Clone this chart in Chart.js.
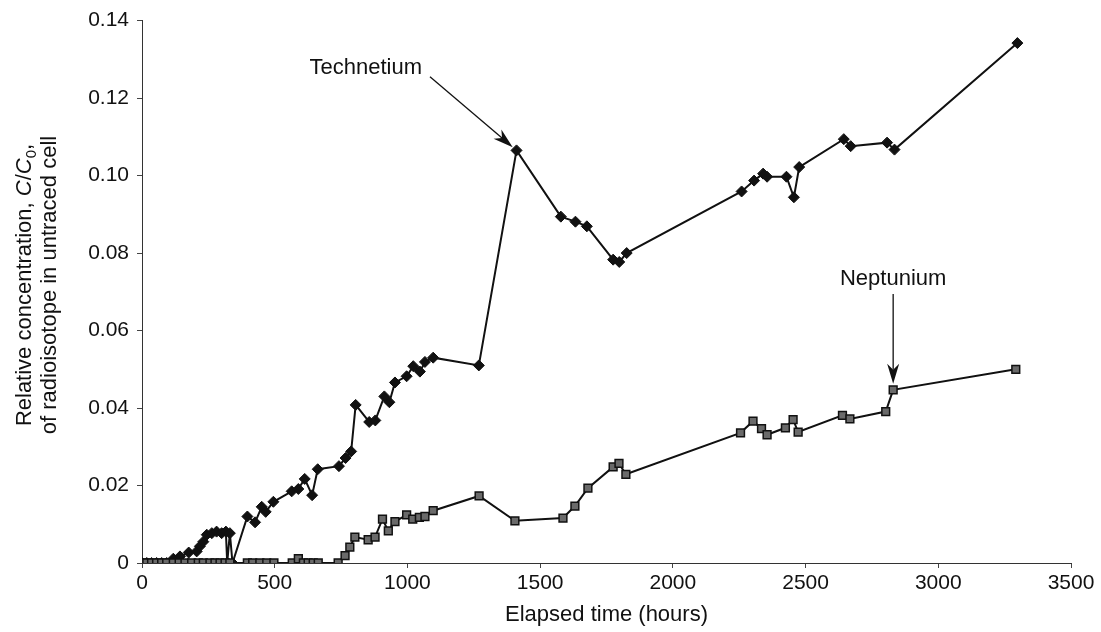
<!DOCTYPE html>
<html><head><meta charset="utf-8">
<script src="https://cdn.jsdelivr.net/npm/chart.js@4.4.1/dist/chart.umd.min.js"></script>
<style>html,body{margin:0;padding:0;background:#fff;}#wrap{width:1101px;height:632px;position:relative;}</style>
</head><body><div id="wrap"><canvas id="c" width="1101" height="632"></canvas></div>
<script>
// ---- data ----
const xTickValues = [0, 500, 1000, 1500, 2000, 2500, 3000, 3500];
const yTickValues = [0, 0.02, 0.04, 0.06, 0.08, 0.10, 0.12, 0.14];

const technetiumHours = [0,18,36,55,74,93,118,143,176,206,218,231,244,263,281,300,316,321,331,341,397,426,451,466,495,564,589,613,641,662,742,767,788,805,856,879,913,932,953,997,1022,1047,1066,1097,1269,1411,1578,1633,1676,1775,1798,1826,2259,2306,2340,2355,2428,2456,2476,2644,2670,2807,2835,3298];
const technetiumValues = [0,0,0,0,0,0,0.0011,0.0017,0.0027,0.003,0.0043,0.0055,0.0073,0.0077,0.0081,0.0077,0.0081,0,0.0077,0,0.012,0.0105,0.0145,0.0132,0.0158,0.0185,0.0191,0.0217,0.0175,0.0242,0.025,0.0271,0.0288,0.0408,0.0364,0.0368,0.043,0.0415,0.0466,0.0482,0.0508,0.0494,0.0519,0.053,0.051,0.1065,0.0894,0.0881,0.0869,0.0783,0.0777,0.08,0.0959,0.0987,0.1005,0.0997,0.0997,0.0944,0.1022,0.1094,0.1076,0.1085,0.1067,0.1342];

const neptuniumHours = [0,18,36,55,74,93,118,140,162,187,212,231,256,275,294,313,331,397,417,444,470,497,566,589,608,626,645,664,739,765,783,802,852,878,906,928,953,997,1020,1045,1066,1097,1270,1405,1586,1631,1680,1775,1797,1823,2255,2302,2334,2355,2424,2453,2472,2639,2667,2802,2830,3292];
const neptuniumValues = [0,0,0,0,0,0,0,0,0,0,0,0,0,0,0,0,0,0,0,0,0,0,0,0.0011,0,0,0,0,0,0.0019,0.0041,0.0067,0.006,0.0067,0.0113,0.0083,0.0107,0.0124,0.0113,0.0118,0.012,0.0135,0.0173,0.0109,0.0116,0.0147,0.0193,0.0248,0.0257,0.0229,0.0336,0.0366,0.0347,0.0331,0.0349,0.037,0.0338,0.0381,0.0372,0.0391,0.0447,0.05];

const seriesNames = ['Technetium', 'Neptunium'];
const xTitle = 'Elapsed time (hours)';
const yTitleLine2 = 'of radioisotope in untraced cell';

// annotation anchors (data units)
const tcLabelAt = {x: 1055, y: 0.1262};
const tcArrowFrom = {x: 1085, y: 0.1255};
const tcArrowTo = {x: 1411, y: 0.1065};
const npLabelAt = {x: 2830, y: 0.0718};
const npArrowFrom = {x: 2830, y: 0.0694};
const npArrowTo = {x: 2830, y: 0.0447};

const FONT = '"Liberation Sans", Arial, Helvetica, sans-serif';

function toXY(xs, ys){ return xs.map((x,i)=>({x:x, y:ys[i]})); }

function drawArrow(ctx, x1, y1, x2, y2, gap){
  const ang = Math.atan2(y2-y1, x2-x1);
  const tx = x2 - Math.cos(ang)*gap, ty = y2 - Math.sin(ang)*gap;
  const L = 20, W = 6, notch = 14;
  ctx.save();
  ctx.strokeStyle = '#111'; ctx.fillStyle = '#111'; ctx.lineWidth = 1.3;
  ctx.beginPath(); ctx.moveTo(x1,y1);
  ctx.lineTo(tx - Math.cos(ang)*notch, ty - Math.sin(ang)*notch); ctx.stroke();
  const bx = tx - Math.cos(ang)*L, by = ty - Math.sin(ang)*L;
  const nx = -Math.sin(ang), ny = Math.cos(ang);
  ctx.beginPath();
  ctx.moveTo(tx, ty);
  ctx.lineTo(bx + nx*W, by + ny*W);
  ctx.lineTo(tx - Math.cos(ang)*notch, ty - Math.sin(ang)*notch);
  ctx.lineTo(bx - nx*W, by - ny*W);
  ctx.closePath(); ctx.fill();
  ctx.restore();
}

const overlay = {
  id: 'overlay',
  afterDraw(chart){
    const ctx = chart.ctx, xs = chart.scales.x, ys = chart.scales.y;
    ctx.save();
    ctx.fillStyle = '#111';
    const cy = 285;
    const segs = [
      {t:'Relative concentration, ', f:'22px '+FONT, dy:0},
      {t:'C', f:'italic 22px '+FONT, dy:0},
      {t:'/', f:'22px '+FONT, dy:0},
      {t:'C', f:'italic 22px '+FONT, dy:0},
      {t:'0', f:'15px '+FONT, dy:5},
      {t:',', f:'22px '+FONT, dy:0}
    ];
    let total = 0;
    segs.forEach(s=>{ ctx.font = s.f; s.w = ctx.measureText(s.t).width; total += s.w; });
    ctx.save();
    ctx.translate(31, cy);
    ctx.rotate(-Math.PI/2);
    ctx.textBaseline = 'alphabetic'; ctx.textAlign = 'left';
    let px = -total/2;
    segs.forEach(s=>{ ctx.font = s.f; ctx.fillText(s.t, px, s.dy); px += s.w; });
    ctx.restore();
    ctx.save();
    ctx.translate(56, cy);
    ctx.rotate(-Math.PI/2);
    ctx.font = '22px '+FONT; ctx.textAlign = 'center'; ctx.textBaseline = 'alphabetic';
    ctx.fillText(yTitleLine2, 0, 0);
    ctx.restore();

    // annotations
    ctx.font = '22px '+FONT; ctx.fillStyle = '#111';
    ctx.textAlign = 'right'; ctx.textBaseline = 'alphabetic';
    ctx.fillText(seriesNames[0], xs.getPixelForValue(tcLabelAt.x), ys.getPixelForValue(tcLabelAt.y));
    drawArrow(ctx, xs.getPixelForValue(tcArrowFrom.x), ys.getPixelForValue(tcArrowFrom.y),
      xs.getPixelForValue(tcArrowTo.x), ys.getPixelForValue(tcArrowTo.y), 5);
    ctx.textAlign = 'center';
    ctx.fillText(seriesNames[1], xs.getPixelForValue(npLabelAt.x), ys.getPixelForValue(npLabelAt.y));
    drawArrow(ctx, xs.getPixelForValue(npArrowFrom.x), ys.getPixelForValue(npArrowFrom.y),
      xs.getPixelForValue(npArrowTo.x), ys.getPixelForValue(npArrowTo.y), 6);
    ctx.restore();
  }
};

new Chart(document.getElementById('c'), {
  type: 'line',
  data: {
    datasets: [
      {
        label: seriesNames[0],
        data: toXY(technetiumHours, technetiumValues),
        borderColor: '#111', borderWidth: 2,
        pointStyle: 'rectRot', pointRadius: 5.5,
        pointBackgroundColor: '#111', pointBorderColor: '#111', pointBorderWidth: 1,
        tension: 0, order: 1
      },
      {
        label: seriesNames[1],
        data: toXY(neptuniumHours, neptuniumValues),
        borderColor: '#111', borderWidth: 2,
        pointStyle: 'rect', pointRadius: 5.5,
        pointBackgroundColor: '#6a6a6a', pointBorderColor: '#111', pointBorderWidth: 1.5,
        tension: 0, order: 0
      }
    ]
  },
  options: {
    responsive: false,
    animation: false,
    devicePixelRatio: 1,
    layout: { padding: { left: 0, right: 30, top: 17, bottom: 4 } },
    plugins: { legend: { display: false }, tooltip: { enabled: false } },
    scales: {
      x: {
        type: 'linear', min: 0, max: 3500,
        afterBuildTicks: s => { s.ticks = xTickValues.map(v => ({value: v})); },
        afterFit: s => { s.height = 65; },
        ticks: { font: { family: FONT, size: 21 }, color: '#111', padding: 3, maxRotation: 0,
          callback: v => String(v) },
        grid: { drawOnChartArea: false, drawTicks: true, tickLength: 5, color: '#444' },
        border: { color: '#333', width: 1 },
        title: { display: true, text: xTitle, font: { family: FONT, size: 22 }, color: '#111', padding: { top: 0, bottom: 0 } }
      },
      y: {
        type: 'linear', min: 0, max: 0.14,
        afterBuildTicks: s => { s.ticks = yTickValues.map(v => ({value: v})); },
        afterFit: s => { s.width = 142; },
        ticks: { font: { family: FONT, size: 21 }, color: '#111', padding: 8,
          callback: v => (v === 0 ? '0' : v.toFixed(2)) },
        grid: { drawOnChartArea: false, drawTicks: true, tickLength: 5, color: '#444' },
        border: { color: '#333', width: 1 }
      }
    }
  },
  plugins: [overlay]
});
</script>
</body></html>
